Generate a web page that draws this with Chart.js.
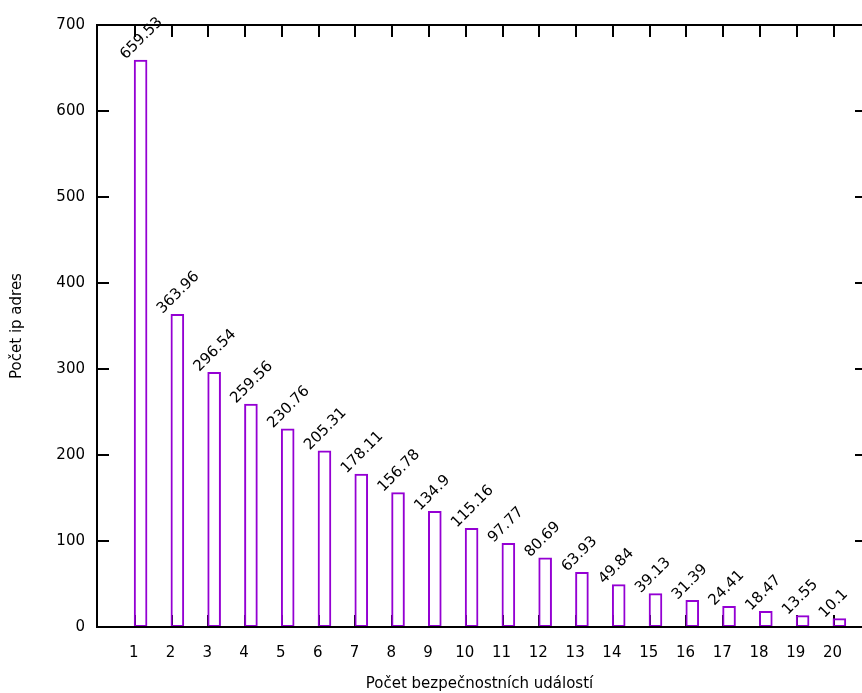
<!DOCTYPE html>
<html>
<head>
<meta charset="utf-8">
<script src="https://cdn.jsdelivr.net/npm/chart.js@4.4.0/dist/chart.umd.min.js"></script>
<style>
  html, body { margin: 0; padding: 0; background: #fff; }
  #wrap { width: 862px; height: 693px; }
</style>
</head>
<body>
<div id="wrap"><canvas id="canvas" width="862" height="693"></canvas></div>
<script>
let categories = [1, 2, 3, 4, 5, 6, 7, 8, 9, 10, 11, 12, 13, 14, 15, 16, 17, 18, 19, 20];
let values = [659.53, 363.96, 296.54, 259.56, 230.76, 205.31, 178.11, 156.78, 134.9, 115.16,
              97.77, 80.69, 63.93, 49.84, 39.13, 31.39, 24.41, 18.47, 13.55, 10.1];
let yTicks = [0, 100, 200, 300, 400, 500, 600, 700];

let FONT = "'DejaVu Sans', Verdana, sans-serif";
let FS = 15;
let BAR = 0.37; // bar width in x units, bar starts at the category value

// frame and inward tick marks like gnuplot; the right border sits just past the canvas edge
let framePlugin = {
  id: 'frame',
  beforeDatasetsDraw(chart) {
    let ctx = chart.ctx;
    let a = chart.chartArea;
    let xs = chart.scales.x, ys = chart.scales.y;
    let rightEdge = a.right + 5;
    ctx.save();
    ctx.strokeStyle = '#000';
    ctx.lineWidth = 2;
    ctx.beginPath();
    categories.forEach(function(c) {
      let px = Math.round(xs.getPixelForValue(c)) + 1;
      ctx.moveTo(px, a.top); ctx.lineTo(px, a.top + 12);
      ctx.moveTo(px, a.bottom); ctx.lineTo(px, a.bottom - 12);
    });
    yTicks.forEach(function(t) {
      let py = Math.round(ys.getPixelForValue(t));
      ctx.moveTo(a.left, py); ctx.lineTo(a.left + 12, py);
      ctx.moveTo(rightEdge, py); ctx.lineTo(rightEdge - 12, py);
    });
    ctx.stroke();
    ctx.restore();
  },
  afterDatasetsDraw(chart) {
    let ctx = chart.ctx;
    let a = chart.chartArea;
    ctx.save();
    ctx.strokeStyle = '#000';
    ctx.lineWidth = 2;
    ctx.beginPath();
    ctx.moveTo(chart.width + 2, a.top);
    ctx.lineTo(a.left, a.top);
    ctx.lineTo(a.left, a.bottom);
    ctx.lineTo(chart.width + 2, a.bottom);
    ctx.stroke();
    ctx.restore();
  }
};

// rotated value labels above each bar
let labelPlugin = {
  id: 'valueLabels',
  afterDatasetsDraw(chart) {
    let ctx = chart.ctx;
    let meta = chart.getDatasetMeta(0);
    ctx.save();
    ctx.font = FS + 'px ' + FONT;
    ctx.fillStyle = '#000';
    ctx.textAlign = 'left';
    ctx.textBaseline = 'alphabetic';
    meta.data.forEach(function(el, i) {
      let left = el.x - el.width / 2;
      ctx.save();
      ctx.translate(left - 8, el.y);
      ctx.rotate(-Math.PI / 4);
      ctx.fillText(String(values[i]), 0, 0);
      ctx.restore();
    });
    ctx.restore();
  }
};

let ctx = document.getElementById('canvas').getContext('2d');
let chart = new Chart(ctx, {
  type: 'bar',
  data: {
    datasets: [{
      data: categories.map(function(c, i) { return { x: c + BAR / 2, y: values[i] }; }),
      backgroundColor: 'rgba(0,0,0,0)',
      borderColor: '#9400D3',
      borderWidth: 2,
      borderSkipped: false,
      categoryPercentage: 1,
      barPercentage: BAR
    }]
  },
  options: {
    responsive: false,
    animation: false,
    layout: { padding: { top: 25, right: 0, left: 0, bottom: 0 } },
    plugins: { legend: { display: false }, tooltip: { enabled: false } },
    scales: {
      x: {
        type: 'linear',
        offset: false,
        min: 0,
        max: 20.8,
        grid: { display: false },
        border: { display: false },
        afterBuildTicks: function(scale) {
          scale.ticks = categories.map(function(c) { return { value: c }; });
        },
        afterFit: function(scale) { scale.height = 66; },
        ticks: {
          autoSkip: false,
          maxRotation: 0,
          padding: 9,
          color: '#000',
          font: { family: FONT, size: FS },
          callback: function(v) { return String(v); }
        },
        title: {
          display: true,
          text: 'Počet bezpečnostních událostí',
          color: '#000',
          font: { family: FONT, size: FS },
          padding: { top: 0, bottom: 0 }
        }
      },
      y: {
        min: 0,
        max: 700,
        grid: { display: false },
        border: { display: false },
        afterBuildTicks: function(scale) {
          scale.ticks = yTicks.map(function(t) { return { value: t }; });
        },
        afterFit: function(scale) { scale.width = 97; },
        ticks: {
          padding: 4,
          color: '#000',
          font: { family: FONT, size: FS }
        },
        title: {
          display: true,
          text: 'Počet ip adres',
          color: '#000',
          font: { family: FONT, size: FS },
          padding: { top: 8, bottom: 0 }
        }
      }
    }
  },
  plugins: [framePlugin, labelPlugin]
});
</script>
</body>
</html>
